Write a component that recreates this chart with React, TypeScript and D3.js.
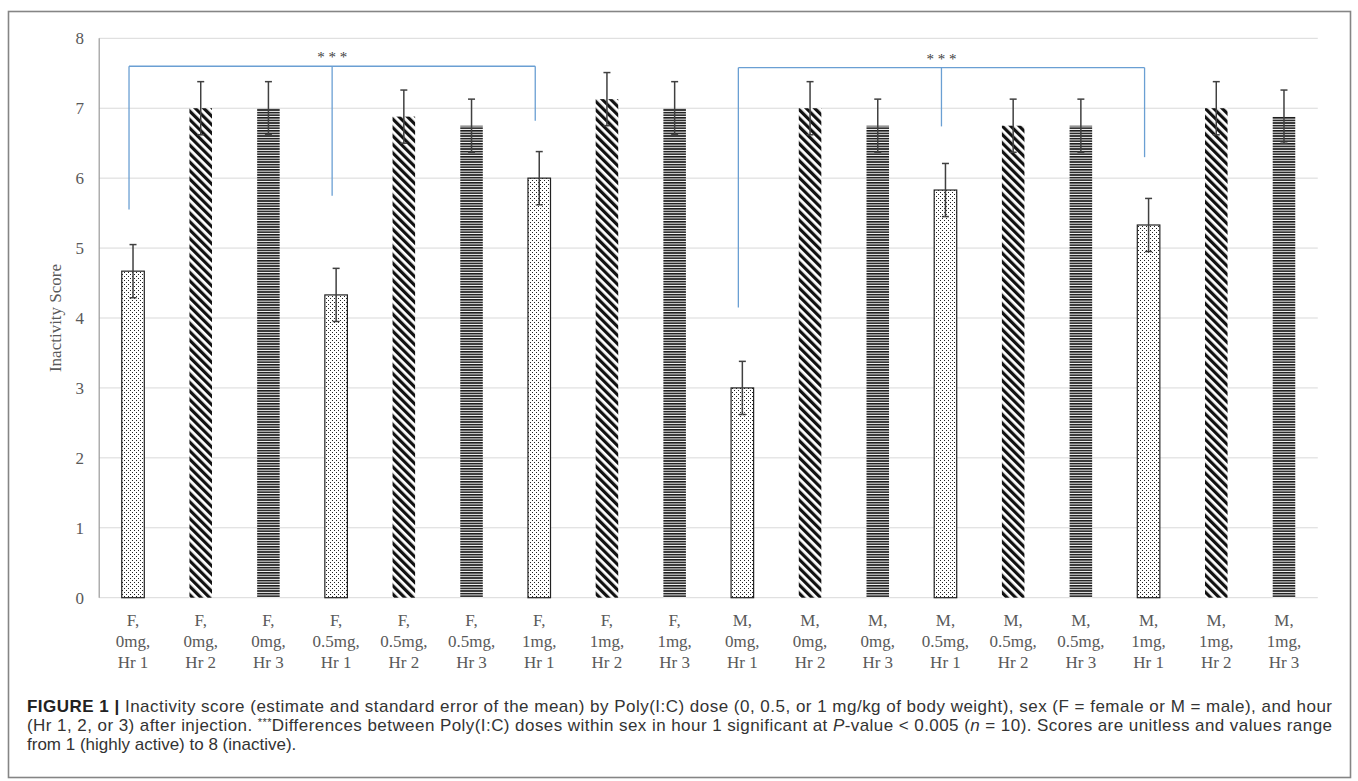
import React from "react";
import * as d3 from "d3";

// --- data ---
const categories = [
  "F, 0mg, Hr 1", "F, 0mg, Hr 2", "F, 0mg, Hr 3",
  "F, 0.5mg, Hr 1", "F, 0.5mg, Hr 2", "F, 0.5mg, Hr 3",
  "F, 1mg, Hr 1", "F, 1mg, Hr 2", "F, 1mg, Hr 3",
  "M, 0mg, Hr 1", "M, 0mg, Hr 2", "M, 0mg, Hr 3",
  "M, 0.5mg, Hr 1", "M, 0.5mg, Hr 2", "M, 0.5mg, Hr 3",
  "M, 1mg, Hr 1", "M, 1mg, Hr 2", "M, 1mg, Hr 3",
];
const means = [4.67, 7.0, 7.0, 4.33, 6.88, 6.75, 6.0, 7.13, 7.0, 3.0, 7.0, 6.75, 5.83, 6.75, 6.75, 5.33, 7.0, 6.88];
const sems = [0.38, 0.38, 0.38, 0.38, 0.38, 0.38, 0.38, 0.38, 0.38, 0.38, 0.38, 0.38, 0.38, 0.38, 0.38, 0.38, 0.38, 0.38];
const yTicks = [0, 1, 2, 3, 4, 5, 6, 7, 8];

// significance brackets: which bars the legs sit on, height of the top, where each leg stops
const bracketBars = [[0, 3, 6], [9, 12, 15]];
const bracketTops = [7.6, 7.58];
const bracketLegEnds = [[5.55, 5.75, 6.82], [4.15, 6.74, 6.3]];
const starLabel = "* * *";

const W = 1358;
const H = 781;
const plotLeft = 99.2;
const plotRight = 1317.8;
const plotTop = 38.3;
const plotBottom = 597.7;

const axisColor = "#595959";
const serif = "'Liberation Serif', 'Times New Roman', serif";
const sans = "'Liberation Sans', Arial, sans-serif";

const fillFor = (cat: string) =>
  cat.endsWith("Hr 1") ? "url(#dots)" : cat.endsWith("Hr 2") ? "url(#diag)" : "url(#hlines)";

export default function App() {
  const x = d3
    .scaleBand<string>()
    .domain(categories)
    .range([plotLeft, plotRight])
    .paddingInner(0.667)
    .paddingOuter(0.333);
  const y = d3.scaleLinear().domain([0, 8]).range([plotBottom, plotTop]);
  const cx = (i: number) => (x(categories[i]) as number) + x.bandwidth() / 2;

  return (
    <svg
      width={W}
      height={H}
      style={{ position: "absolute", left: 0, top: 0, background: "#fff" }}
    >
      <defs>
        <pattern id="dots" width={4} height={4} patternUnits="userSpaceOnUse">
          <rect width={4} height={4} fill="#fff" />
          <rect x={0} y={0} width={1} height={1} fill="#222" />
          <rect x={2} y={2} width={1} height={1} fill="#222" />
        </pattern>
        <pattern id="diag" width={6} height={6} patternUnits="userSpaceOnUse" patternTransform="rotate(-45)">
          <rect width={6} height={6} fill="#fff" />
          <rect width={3.2} height={6} fill="#111" />
        </pattern>
        <pattern id="hlines" width={4} height={2.6} patternUnits="userSpaceOnUse">
          <rect width={4} height={2.6} fill="#fff" />
          <rect width={4} height={1.6} fill="#1a1a1a" />
        </pattern>
      </defs>

      {/* frame */}
      <rect x={8.5} y={11.5} width={1342} height={766} fill="none" stroke="#858585" strokeWidth={1.6} />

      {/* grid */}
      {yTicks.map((t) => (
        <line key={t} x1={plotLeft} x2={plotRight} y1={y(t)} y2={y(t)} stroke="#d9d9d9" strokeWidth={1} />
      ))}
      <line x1={plotLeft} x2={plotLeft} y1={plotTop} y2={plotBottom} stroke="#9a9a9a" strokeWidth={1.2} />

      {/* y tick labels */}
      {yTicks.map((t) => (
        <text key={t} x={84} y={y(t)} dy="0.35em" textAnchor="end" fontFamily={serif} fontSize={17} fill={axisColor}>
          {t}
        </text>
      ))}
      <text
        transform={`translate(55,${(plotTop + plotBottom) / 2}) rotate(-90)`}
        textAnchor="middle"
        dy="0.35em"
        fontFamily={serif}
        fontSize={17}
        fill={axisColor}
      >
        Inactivity Score
      </text>

      {/* bars */}
      {categories.map((c, i) => (
        <rect
          key={c}
          x={x(c)}
          y={y(means[i])}
          width={x.bandwidth()}
          height={y(0) - y(means[i])}
          fill={fillFor(c)}
          stroke={c.endsWith("Hr 1") ? "#222" : "none"}
          strokeWidth={1.2}
        />
      ))}

      {/* error bars */}
      {categories.map((c, i) => {
        const xc = cx(i);
        const hi = y(means[i] + sems[i]);
        const lo = y(means[i] - sems[i]);
        return (
          <g key={c} stroke="#404040" strokeWidth={1.5}>
            <line x1={xc} x2={xc} y1={hi} y2={lo} />
            <line x1={xc - 3.5} x2={xc + 3.5} y1={hi} y2={hi} />
            <line x1={xc - 3.5} x2={xc + 3.5} y1={lo} y2={lo} />
          </g>
        );
      })}

      {/* x labels */}
      {categories.map((c, i) => {
        const parts = c.split(", ");
        return (
          <text key={c} x={cx(i)} y={y(0) + 28} textAnchor="middle" fontFamily={serif} fontSize={17} fill={axisColor}>
            {parts.map((p, j) => (
              <tspan key={j} x={cx(i)} dy={j === 0 ? 0 : 21}>
                {j < parts.length - 1 ? p + "," : p}
              </tspan>
            ))}
          </text>
        );
      })}

      {/* significance brackets */}
      {bracketBars.map((bars, b) => {
        const top = y(bracketTops[b]);
        const legs = bars.map((bi) => cx(bi) - 4);
        return (
          <g key={b}>
            <line x1={legs[0]} x2={legs[legs.length - 1]} y1={top} y2={top} stroke="#6a9fd3" strokeWidth={1.3} />
            {legs.map((lx, k) => (
              <line key={k} x1={lx} x2={lx} y1={top} y2={y(bracketLegEnds[b][k])} stroke="#6a9fd3" strokeWidth={1.3} />
            ))}
            <text x={legs[1]} y={top - 4} textAnchor="middle" fontFamily={serif} fontSize={15} fill="#404040">
              {starLabel}
            </text>
          </g>
        );
      })}

      {/* caption */}
      <g fontFamily={sans} fontSize={17} fill="#333">
        <text x={27} y={712} textLength={1305} lengthAdjust="spacing">
          <tspan fontWeight="bold" fill="#222">FIGURE 1 |</tspan>
          <tspan> Inactivity score (estimate and standard error of the mean) by Poly(I:C) dose (0, 0.5, or 1 mg/kg of body weight), sex (F = female or M = male), and hour</tspan>
        </text>
        <text x={27} y={731} textLength={1305} lengthAdjust="spacing">
          <tspan>(Hr 1, 2, or 3) after injection. </tspan>
          <tspan fontSize={11} dy={-5}>***</tspan>
          <tspan dy={5}>Differences between Poly(I:C) doses within sex in hour 1 significant at </tspan>
          <tspan fontStyle="italic">P</tspan>
          <tspan>-value &lt; 0.005 (</tspan>
          <tspan fontStyle="italic">n</tspan>
          <tspan> = 10). Scores are unitless and values range</tspan>
        </text>
        <text x={27} y={750}>from 1 (highly active) to 8 (inactive).</text>
      </g>
    </svg>
  );
}
